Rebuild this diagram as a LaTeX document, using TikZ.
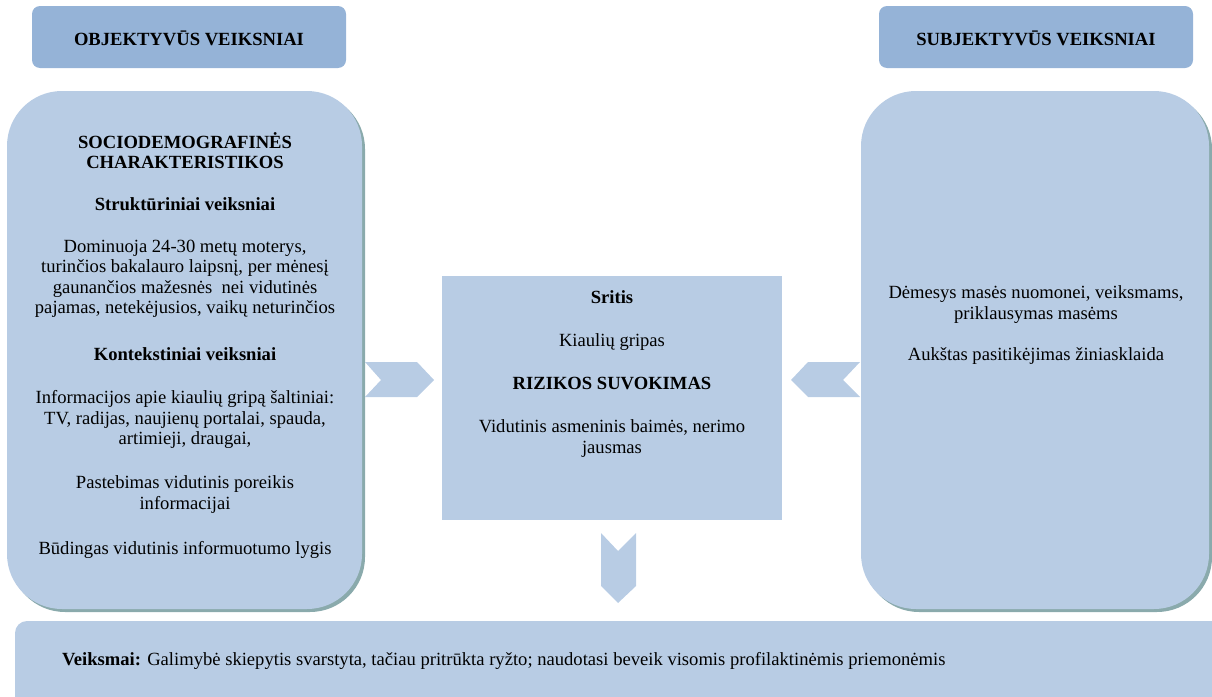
\documentclass[tikz,border=0pt]{standalone}
\usepackage{fontspec}
\setmainfont{Liberation Serif}
\definecolor{headblue}{RGB}{149,179,215}
\definecolor{boxblue}{RGB}{184,204,228}
\definecolor{shadowteal}{RGB}{138,170,172}
\tikzset{
  headbox/.style={fill=headblue, rounded corners=8pt},
  bigbox/.style={fill=boxblue, rounded corners=55pt},
  bigshadow/.style={fill=shadowteal, rounded corners=55pt},
  chevron/.style={fill=boxblue},
  bodytxt/.style={align=center, inner sep=0pt, anchor=north,
    font=\fontsize{18.6}{20.5}\selectfont},
  boldtxt/.style={bodytxt, font=\fontsize{18.6}{20.5}\selectfont\bfseries},
  headtxt/.style={inner sep=0pt, font=\fontsize{18.6}{21}\selectfont\bfseries}
}
\begin{document}
\begin{tikzpicture}[x=1pt,y=-1pt]
    \useasboundingbox (0,0) rectangle (1212,696);
    % headers
    \fill[headbox] (32,6) rectangle (346,68);
    \fill[headbox] (879,6) rectangle (1193,68);
    \node[headtxt] (objhead) at (189,38) {OBJEKTYVŪS VEIKSNIAI};
    \node[headtxt] (subjhead) at (1036,38) {SUBJEKTYVŪS VEIKSNIAI};
    % big boxes
    \fill[bigshadow] (10,94) rectangle (365,612);
    \fill[bigbox] (7,91) rectangle (362,609);
    \fill[bigshadow] (864,94) rectangle (1212,612);
    \fill[bigbox] (861,91) rectangle (1209,609);
    \fill[boxblue] (442,276) rectangle (782,520);
    \fill[boxblue, rounded corners=12pt] (15,621) rectangle (1230,720);
    % chevrons
    \fill[chevron] (365,362) -- (417,362) -- (434,380) -- (417,397) -- (365,397) -- (381,380) -- cycle;
    \fill[chevron] (860,362) -- (808,362) -- (791,380) -- (808,397) -- (860,397) -- (843,380) -- cycle;
    \fill[chevron] (601,533) -- (618,551) -- (636,533) -- (636,586) -- (618,603) -- (601,586) -- cycle;
    % left box
    \node[boldtxt] (socdem) at (185,132) {SOCIODEMOGRAFINĖS\\CHARAKTERISTIKOS};
    \node[boldtxt] (strukt) at (185,197.5) {Struktūriniai veiksniai};
    \node[bodytxt] (strukttxt) at (185,239.5) {Dominuoja 24-30 metų moterys,\\turinčios bakalauro laipsnį, per mėnesį\\gaunančios mažesnės~ nei vidutinės\\pajamas, netekėjusios, vaikų neturinčios};
    \node[boldtxt] (kontekst) at (185,347.5) {Kontekstiniai veiksniai};
    \node[bodytxt] (saltiniai) at (185,390.5) {Informacijos apie kiaulių gripą šaltiniai:\\TV, radijas, naujienų portalai, spauda,\\artimieji, draugai,};
    \node[bodytxt] (poreikis) at (185,475.5) {Pastebimas vidutinis poreikis\\informacijai};
    \node[bodytxt] (lygis) at (185,541.5) {Būdingas vidutinis informuotumo lygis};
    % center box
    \node[boldtxt] (sritis) at (612,290.5) {Sritis};
    \node[bodytxt] (gripas) at (612,333.5) {Kiaulių gripas};
    \node[boldtxt] (rizika) at (612,376.5) {RIZIKOS SUVOKIMAS};
    \node[bodytxt] (baime) at (612,419.5) {Vidutinis asmeninis baimės, nerimo\\jausmas};
    % right box
    \node[bodytxt] (demesys) at (1036,285.5) {Dėmesys masės nuomonei, veiksmams,\\priklausymas masėms};
    \node[bodytxt] (pasitikejimas) at (1036,347.5) {Aukštas pasitikėjimas žiniasklaida};
    % bottom box
    \node[inner sep=0pt, anchor=west, font=\fontsize{18.6}{21}\selectfont] (veiksmai) at (62,661)
      {\textbf{Veiksmai:} Galimybė skiepytis svarstyta, tačiau pritrūkta ryžto; naudotasi beveik visomis profilaktinėmis priemonėmis};
\end{tikzpicture}
\end{document}
